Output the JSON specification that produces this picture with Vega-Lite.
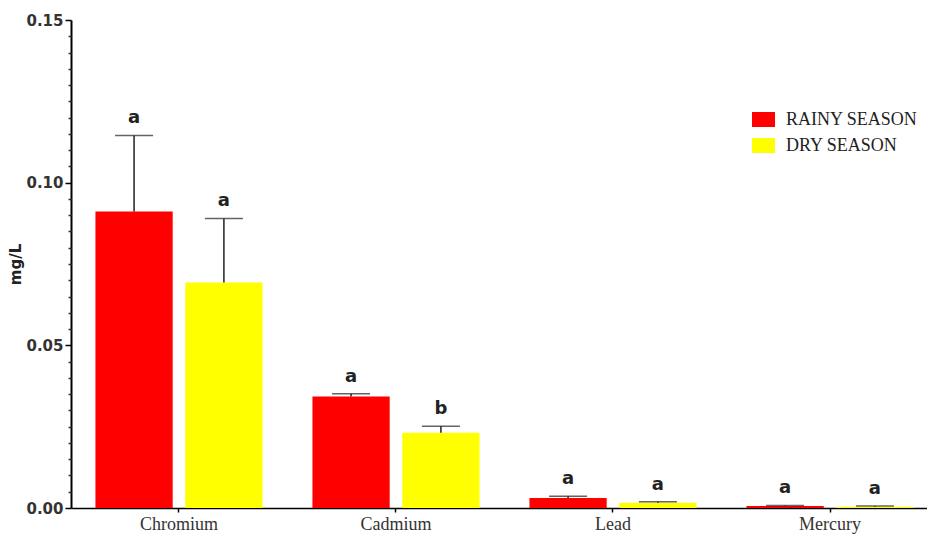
{
  "$schema": "https://vega.github.io/schema/vega-lite/v6.json",
  "width": 856,
  "height": 488,
  "autosize": {"type": "none"},
  "padding": {"left": 71, "top": 20, "right": 0, "bottom": 32},
  "background": "white",
  "config": {"view": {"stroke": null}, "axis": {"grid": false}},
  "data": {
    "values": [
      {"element": "Chromium", "season": "RAINY SEASON", "mean": 0.0911, "upper": 0.1145, "letter": "a"},
      {"element": "Chromium", "season": "DRY SEASON", "mean": 0.0693, "upper": 0.0890, "letter": "a"},
      {"element": "Cadmium", "season": "RAINY SEASON", "mean": 0.0343, "upper": 0.0351, "letter": "a"},
      {"element": "Cadmium", "season": "DRY SEASON", "mean": 0.0231, "upper": 0.0251, "letter": "b"},
      {"element": "Lead", "season": "RAINY SEASON", "mean": 0.0031, "upper": 0.0036, "letter": "a"},
      {"element": "Lead", "season": "DRY SEASON", "mean": 0.0016, "upper": 0.0019, "letter": "a"},
      {"element": "Mercury", "season": "RAINY SEASON", "mean": 0.0006, "upper": 0.0008, "letter": "a"},
      {"element": "Mercury", "season": "DRY SEASON", "mean": 0.0004, "upper": 0.0006, "letter": "a"}
    ]
  },
  "encoding": {
    "x": {
      "field": "element",
      "type": "nominal",
      "sort": ["Chromium", "Cadmium", "Lead", "Mercury"],
      "scale": {"paddingInner": 0.23, "paddingOuter": 0.0873, "align": 0.645},
      "axis": {
        "title": null,
        "labelAngle": 0,
        "labelFont": "Liberation Serif",
        "labelFontSize": 18,
        "labelColor": "#333333",
        "labelPadding": 3,
        "domainColor": "#000000",
        "domainWidth": 1.5,
        "tickColor": "#000000",
        "tickWidth": 1.5,
        "tickSize": 4
      }
    },
    "xOffset": {
      "field": "season",
      "type": "nominal",
      "sort": ["RAINY SEASON", "DRY SEASON"],
      "scale": {"paddingInner": 0.14}
    }
  },
  "resolve": {"axis": {"y": "independent"}},
  "layer": [
    {
      "mark": {"type": "bar"},
      "encoding": {
        "y": {
          "field": "mean",
          "type": "quantitative",
          "scale": {"domain": [0, 0.15], "nice": false},
          "axis": {
            "orient": "left",
            "title": "mg/L",
            "titleFont": "DejaVu Sans",
            "titleFontWeight": "bold",
            "titleFontSize": 15,
            "titleColor": "#222222",
            "titlePadding": 2,
            "values": [0, 0.05, 0.1, 0.15],
            "format": ".2f",
            "labelFont": "DejaVu Sans",
            "labelFontWeight": "bold",
            "labelFontSize": 15,
            "labelColor": "#333333",
            "labelPadding": 2,
            "domainColor": "#000000",
            "domainWidth": 2,
            "tickColor": "#000000",
            "tickWidth": 1.5,
            "tickSize": 6
          }
        },
        "color": {
          "field": "season",
          "type": "nominal",
          "sort": ["RAINY SEASON", "DRY SEASON"],
          "scale": {"domain": ["RAINY SEASON", "DRY SEASON"], "range": ["#ff0000", "#ffff00"]},
          "legend": {
            "orient": "none",
            "legendX": 681,
            "legendY": 88,
            "title": null,
            "symbolType": "M-1,-0.65H1V0.65H-1Z",
            "symbolSize": 529,
            "symbolStrokeWidth": 0,
            "labelFont": "Liberation Serif",
            "labelFontSize": 18,
            "labelColor": "#222222",
            "labelOffset": 11,
            "rowPadding": 5,
            "padding": 0
          }
        }
      }
    },
    {
      "mark": {"type": "rule", "color": "#222222", "strokeWidth": 1.5},
      "encoding": {
        "y": {
          "field": "mean",
          "type": "quantitative",
          "scale": {"domain": [0, 0.15], "nice": false},
          "axis": {
            "orient": "left",
            "title": null,
            "labels": false,
            "domain": false,
            "values": [0.005, 0.01, 0.015, 0.02, 0.025, 0.03, 0.035, 0.04, 0.045, 0.055, 0.06, 0.065, 0.07, 0.075, 0.08, 0.085, 0.09, 0.095, 0.105, 0.11, 0.115, 0.12, 0.125, 0.13, 0.135, 0.14, 0.145],
            "tickColor": "#333333",
            "tickWidth": 1.5,
            "tickSize": 3
          }
        },
        "y2": {"field": "upper"}
      }
    },
    {
      "mark": {"type": "tick", "color": "#222222", "thickness": 1.5, "size": 38},
      "encoding": {
        "y": {"field": "upper", "type": "quantitative", "axis": null}
      }
    },
    {
      "mark": {"type": "text", "font": "DejaVu Sans", "fontWeight": "bold", "fontSize": 18, "color": "#222222", "baseline": "middle", "dy": -17},
      "encoding": {
        "y": {"field": "upper", "type": "quantitative", "axis": null},
        "text": {"field": "letter"}
      }
    }
  ]
}
